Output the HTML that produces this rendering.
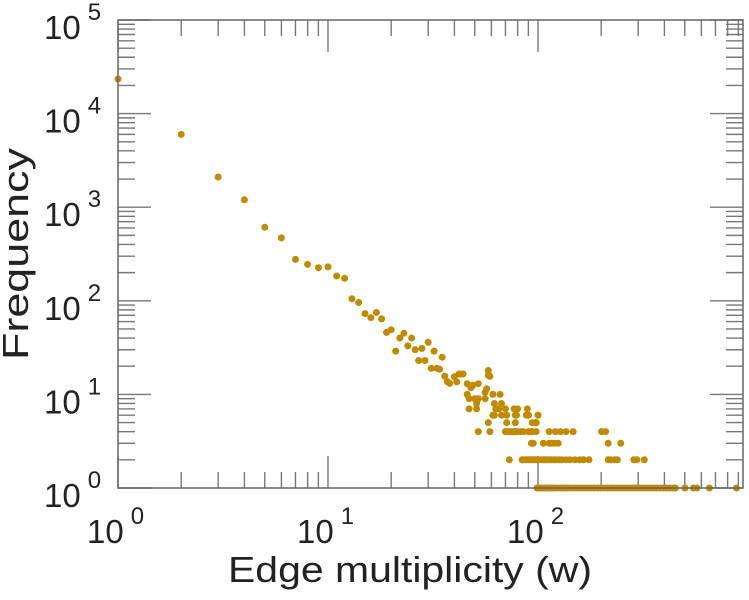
<!DOCTYPE html>
<html><head><meta charset="utf-8"><style>
html,body{margin:0;padding:0;background:#fff;}
svg{display:block;font-family:"Liberation Sans",Arial,sans-serif;}
</style></head><body>
<svg id="chart" width="749" height="600" viewBox="0 0 749 600" xmlns="http://www.w3.org/2000/svg">
<g id="ticks"></g>
<g id="points"></g>
<rect x="118" y="20" width="625" height="468" fill="none" stroke="#666" stroke-width="1.5"/>
<g id="labels" fill="#222"></g>
<text x="228" y="582" font-size="36" textLength="364" lengthAdjust="spacingAndGlyphs" fill="#222">Edge multiplicity (w)</text>
<text transform="translate(28,360) rotate(-90)" font-size="36" textLength="212" lengthAdjust="spacingAndGlyphs" fill="#222">Frequency</text>
</svg>
<script>
var xs = [1,2,3,4,5,6,7,8,9,10,11,12,13,14,15,16,17,18,19,20,21,22,23,24,25,26,27,28,29,30,31,32,33,34,35,36,37,38,40,41,42,43,44,46,46,47,47,48,49,50,51,51,52,52,56,56,57,58,58,59,61,61,62,63,65,66,67,67,70,71,77,78,79,80,88,89,90,98,100,
73,84,86,88,90,92,94,96,98,100,103,106,108,110,113,116,119,122,126,130,136,142,150,158,165,175,216,222,232,239,286,296,321,
93,95,106,113,116,120,125,216,248,
52,59,70,72,74,76,78,80,83,85,90,92,94,98,113,121,128,136,147,201,210,
58,71,94,98,
61,62,78,90,100];
var ys = [23400,6000,2100,1200,610,470,277,245,226,230,184,174,105,96,73,66,75,64,46,49,29,40,45,33,40,30,23,31,23,36,19,29,19,18.6,25,15.7,13.7,13.1,15.5,13.6,16.5,16.5,16.5,13,10,9,7,11.8,12.5,9,8,7,13,9,10.5,9,11.5,18,16,15.6,10,6,8,7,7,10,8,6,7,6,7,5,6,7,6,7,6,5,6,
2,2,2,2,2,2,2,2,2,2,2,2,2,2,2,2,2,2,2,2,2,2,2,2,2,2,2,2,2,2,2,2,2,
3,3,3,3,3,3,3,3,3,
4,4,4,4,4,4,4,4,4,4,4,4,4,4,4,4,4,4,4,4,4,
5,5,5,5,
6,6,6,6,6];
var onesX = [99,102,105,108,111,114,117,120,124,128,132,136,140,145,150,155,160,166,172,178,185,192,199,206,214,222,230,238,247,256,265,275,285,295,306,317,329,341,353,366,380,394,408,423,439,451,501,550,571,655,881];
var yTickExps = [0,1,2,3,4,5];
var xTickExps = [0,1,2];

var NS="http://www.w3.org/2000/svg";
var L=118,R=743,T=20,B=488;
var xMin=0,xMax=Math.log10(947),yMin=0,yMax=5;
function xS(v){return L+(Math.log10(v)-xMin)/(xMax-xMin)*(R-L);}
function yS(v){return B-(Math.log10(v)-yMin)/(yMax-yMin)*(B-T);}
function mk(tag,attrs,parent){var e=document.createElementNS(NS,tag);for(var k in attrs)e.setAttribute(k,attrs[k]);parent.appendChild(e);return e;}

var pts=document.getElementById('points');
function dot(x,y){
  var c=mk('circle',{cx:xS(x).toFixed(1),cy:yS(y).toFixed(1),r:3.5,fill:'#c08b00'},pts);
  
  
}
for(var i=0;i<xs.length;i++)dot(xs[i],ys[i]);
for(var j=0;j<onesX.length;j++)dot(onesX[j],1);

var tk=document.getElementById('ticks');
function line(x1,y1,x2,y2,name){
  var l=mk('line',{x1:x1,y1:y1,x2:x2,y2:y2,stroke:'#777','stroke-width':1.4},tk);
  
  
}
for(var d=0;d<=5;d++){
  for(var m=1;m<=9;m++){
    var v=m*Math.pow(10,d); if(Math.log10(v)>yMax+1e-9)break;
    var y=yS(v),len=(m===1)?33:17;
    line(L,y,L+len,y,'y-tick'); line(R,y,R-len,y,'y-tick');
  }
}
for(var d2=0;d2<=2;d2++){
  for(var m2=1;m2<=9;m2++){
    var v2=m2*Math.pow(10,d2); if(Math.log10(v2)>xMax)break;
    var x=xS(v2),len2=(m2===1)?32:16;
    line(x,B,x,B-len2,'x-tick'); line(x,T,x,T+len2,'x-tick');
  }
}
var lb=document.getElementById('labels');
function label(x,y,exp,name){
  var t=mk('text',{x:x,y:y,'font-size':33},lb);
  
  
  t.textContent='10';
  var s=mk('tspan',{dx:7,dy:-19,'font-size':24},t);
  s.textContent=String(exp);
}
yTickExps.forEach(function(e){
  var y=yS(Math.pow(10,e));
  label(44,y+19,e,'y-tick-label');
});
xTickExps.forEach(function(e){
  var x=xS(Math.pow(10,e));
  label(x-31,543,e,'x-tick-label');
});
</script>
</body></html>
